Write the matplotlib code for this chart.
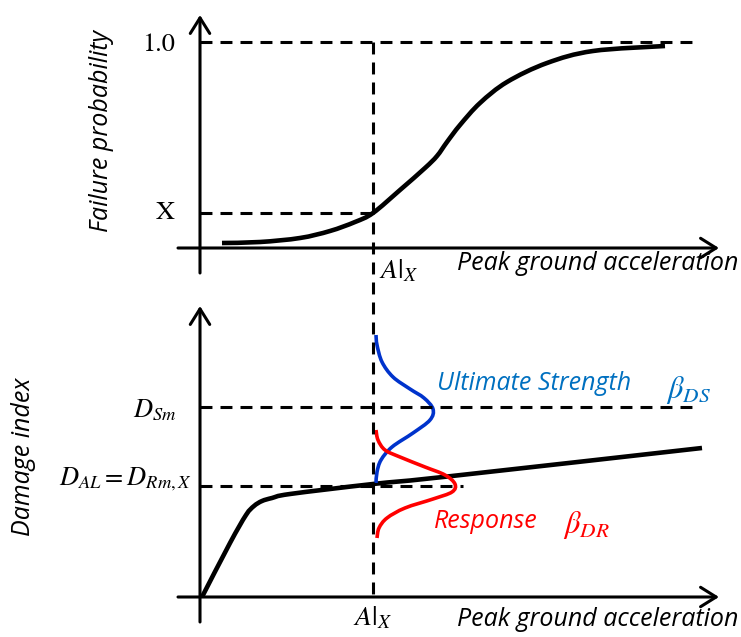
import numpy as np
import matplotlib
matplotlib.use("Agg")
import matplotlib.pyplot as plt
from matplotlib.path import Path
from matplotlib.patches import PathPatch

plt.rcParams['mathtext.fontset'] = 'stix'
plt.rcParams['lines.scale_dashes'] = False

# fragility curve (top panel), pixel space
frag_x = [222, 260, 300, 330, 355, 373, 400, 425, 437, 447, 460, 480, 507, 547, 593, 665]
frag_y = [243, 242, 238, 231, 222, 213, 190, 168, 156, 142, 125, 103, 82, 63, 51, 46]

# damage index vs PGA (bottom panel)
dmg_x = [202, 230, 246, 254, 262, 272, 290, 373, 443, 702]
dmg_y = [597, 543, 515, 506, 501, 498, 494, 484, 477, 448]

# ultimate strength distribution (blue)
str_x = [376, 377, 382, 393, 410, 424, 433, 430, 413, 392, 381, 377, 376]
str_y = [335, 345, 362, 377, 389, 398, 409, 420, 433, 447, 460, 472, 483]

# response distribution (red)
resp_x = [376, 378, 385, 400, 425, 445, 455, 452, 433, 405, 387, 379, 377]
resp_y = [430, 440, 450, 457, 467, 475, 484, 492, 499, 508, 518, 528, 538]

ax_x0 = 200
a_x = 373
lvl_one, lvl_x = 42, 213
lvl_sm, lvl_al = 407, 486
top_base, bot_base = 248, 597


def smooth(xs, ys, **kw):
    # Catmull-Rom through the read points, drawn as cubic Bezier segments
    p = np.column_stack([xs, ys]).astype(float)
    p = np.vstack([p[0], p, p[-1]])
    verts = [p[1]]
    codes = [Path.MOVETO]
    for i in range(1, len(p) - 2):
        c1 = p[i] + (p[i + 1] - p[i - 1]) / 6
        c2 = p[i + 1] - (p[i + 2] - p[i]) / 6
        verts += [c1, c2, p[i + 1]]
        codes += [Path.CURVE4] * 3
    return PathPatch(Path(verts, codes), fill=False, **kw)


fig = plt.figure(figsize=(7.41, 6.37), dpi=100)
ax = fig.add_axes([0, 0, 1, 1])
ax.set_xlim(0, 741)
ax.set_ylim(637, 0)
ax.axis('off')

arr = dict(arrowstyle='->,head_length=0.4,head_width=0.25', lw=2.2,
           color='black', shrinkA=0, shrinkB=0, mutation_scale=28)

# axes with arrows
ax.annotate('', xy=(ax_x0, 15), xytext=(ax_x0, 273), arrowprops=arr)
ax.annotate('', xy=(719, top_base), xytext=(178, top_base), arrowprops=arr)
ax.annotate('', xy=(ax_x0, 306), xytext=(ax_x0, 622), arrowprops=arr)
ax.annotate('', xy=(719, bot_base), xytext=(178, bot_base), arrowprops=arr)

dash = dict(color='black', lw=2.2, dashes=(8.6, 5.8))
ax.plot([a_x, a_x], [lvl_one, bot_base], **dash)
ax.plot([ax_x0, 697], [lvl_one, lvl_one], **dash)
ax.plot([ax_x0, a_x], [lvl_x, lvl_x], **dash)
ax.plot([ax_x0, 697], [lvl_sm, lvl_sm], **dash)
ax.plot([ax_x0, 463], [lvl_al, lvl_al], **dash)

ax.add_patch(smooth(frag_x, frag_y, edgecolor='black', lw=3.3, capstyle='butt'))
ax.add_patch(smooth(dmg_x, dmg_y, edgecolor='black', lw=3.3, capstyle='butt'))
ax.add_patch(smooth(str_x, str_y, edgecolor='#0033cc', lw=2.6))
ax.add_patch(smooth(resp_x, resp_y, edgecolor='#ff0000', lw=2.6))

sans = dict(family='Open Sans', style='italic', fontsize=18)
ax.text(102, 131, 'Failure probability', rotation=90, ha='center', va='center', **sans)
ax.text(24, 457, 'Damage index', rotation=90, ha='center', va='center', **sans)
ax.text(457, 264, 'Peak ground acceleration', ha='left', va='center', **sans)
ax.text(457, 620, 'Peak ground acceleration', ha='left', va='center', **sans)
ax.text(437, 384, 'Ultimate Strength', ha='left', va='center', color='#0070c0', **sans)
ax.text(434, 521, 'Response', ha='left', va='center', color='#ff0000', **sans)

ms = 19
ax.text(175, 45, '1.0', ha='right', va='center', fontsize=ms, family='STIXGeneral')
ax.text(175, 213, 'X', ha='right', va='center', fontsize=ms, family='STIXGeneral')
ax.text(177, 417, r'$D_{Sm}$', ha='right', va='baseline', fontsize=ms)
ax.text(192, 485, r'$D_{AL}=D_{Rm,X}$', ha='right', va='baseline', fontsize=ms)
ax.text(379, 278, r'$A|_X$', ha='left', va='baseline', fontsize=ms + 1)
ax.text(353, 625, r'$A|_X$', ha='left', va='baseline', fontsize=ms + 1)
ax.text(666, 398, r'$\beta_{DS}$', ha='left', va='baseline', fontsize=ms + 3, color='#0070c0')
ax.text(563, 533, r'$\beta_{DR}$', ha='left', va='baseline', fontsize=ms + 3, color='#ff0000')

fig.savefig('out.png', dpi=100)
